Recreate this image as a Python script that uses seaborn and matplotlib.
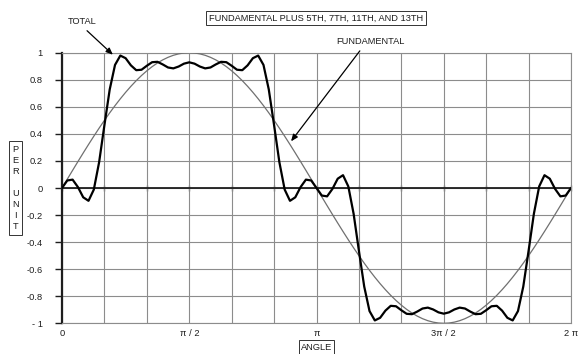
import matplotlib
matplotlib.use("Agg")
import matplotlib.pyplot as plt
import seaborn as sns
import pandas as pd

# ---- data ----
angle_deg = [0, 3.75, 7.5, 11.25, 15, 18.75, 22.5, 26.25, 30, 33.75, 37.5, 41.25, 45,
             48.75, 52.5, 56.25, 60, 63.75, 67.5, 71.25, 75, 78.75, 82.5, 86.25, 90,
             93.75, 97.5, 101.25, 105, 108.75, 112.5, 116.25, 120, 123.75, 127.5, 131.25, 135,
             138.75, 142.5, 146.25, 150, 153.75, 157.5, 161.25, 165, 168.75, 172.5, 176.25, 180,
             183.75, 187.5, 191.25, 195, 198.75, 202.5, 206.25, 210, 213.75, 217.5, 221.25, 225,
             228.75, 232.5, 236.25, 240, 243.75, 247.5, 251.25, 255, 258.75, 262.5, 266.25, 270,
             273.75, 277.5, 281.25, 285, 288.75, 292.5, 296.25, 300, 303.75, 307.5, 311.25, 315,
             318.75, 322.5, 326.25, 330, 333.75, 337.5, 341.25, 345, 348.75, 352.5, 356.25, 360]

total = [0, 0.0557, 0.0618, 0.0070, -0.0687, -0.0947, -0.0118, 0.1905, 0.4644, 0.7285, 0.9097,
         0.9788, 0.9594, 0.9063, 0.8708, 0.8741, 0.9034, 0.9298, 0.9327, 0.9133, 0.8907, 0.8841,
         0.8978, 0.9190, 0.9289,
         0.9190, 0.8978, 0.8841, 0.8907, 0.9133, 0.9327, 0.9298, 0.9034, 0.8741, 0.8708, 0.9063,
         0.9594, 0.9788, 0.9097, 0.7285, 0.4644, 0.1905, -0.0118, -0.0947, -0.0687, 0.0070,
         0.0618, 0.0557, 0,
         -0.0557, -0.0618, -0.0070, 0.0687, 0.0947, 0.0118, -0.1905, -0.4644, -0.7285, -0.9097,
         -0.9788, -0.9594, -0.9063, -0.8708, -0.8741, -0.9034, -0.9298, -0.9327, -0.9133, -0.8907,
         -0.8841, -0.8978, -0.9190, -0.9289,
         -0.9190, -0.8978, -0.8841, -0.8907, -0.9133, -0.9327, -0.9298, -0.9034, -0.8741, -0.8708,
         -0.9063, -0.9594, -0.9788, -0.9097, -0.7285, -0.4644, -0.1905, 0.0118, 0.0947, 0.0687,
         -0.0070, -0.0618, -0.0557, 0]

fundamental = [0, 0.0654, 0.1305, 0.1951, 0.2588, 0.3214, 0.3827, 0.4423, 0.5, 0.5556, 0.6088,
               0.6593, 0.7071, 0.7518, 0.7934, 0.8315, 0.8660, 0.8969, 0.9239, 0.9469, 0.9659,
               0.9808, 0.9914, 0.9979, 1.0,
               0.9979, 0.9914, 0.9808, 0.9659, 0.9469, 0.9239, 0.8969, 0.8660, 0.8315, 0.7934,
               0.7518, 0.7071, 0.6593, 0.6088, 0.5556, 0.5, 0.4423, 0.3827, 0.3214, 0.2588,
               0.1951, 0.1305, 0.0654, 0,
               -0.0654, -0.1305, -0.1951, -0.2588, -0.3214, -0.3827, -0.4423, -0.5, -0.5556, -0.6088,
               -0.6593, -0.7071, -0.7518, -0.7934, -0.8315, -0.8660, -0.8969, -0.9239, -0.9469, -0.9659,
               -0.9808, -0.9914, -0.9979, -1.0,
               -0.9979, -0.9914, -0.9808, -0.9659, -0.9469, -0.9239, -0.8969, -0.8660, -0.8315, -0.7934,
               -0.7518, -0.7071, -0.6593, -0.6088, -0.5556, -0.5, -0.4423, -0.3827, -0.3214, -0.2588,
               -0.1951, -0.1305, -0.0654, 0]

xtick_pos = [0, 90, 180, 270, 360]
xtick_labels = ["0", "\u03c0 / 2", "\u03c0", "3\u03c0 / 2", "2 \u03c0"]
ytick_pos = [-1, -0.8, -0.6, -0.4, -0.2, 0, 0.2, 0.4, 0.6, 0.8, 1]
ytick_labels = ["- 1", "-0.8", "-0.6", "-0.4", "-0.2", "0", "0.2", "0.4", "0.6", "0.8", "1"]
grid_x = [0, 30, 60, 90, 120, 150, 180, 210, 240, 270, 300, 330, 360]

title = "FUNDAMENTAL PLUS 5TH, 7TH, 11TH, AND 13TH"

# ---- styling ----
sns.set_style("white")
plt.rcParams["font.family"] = ["Liberation Sans", "DejaVu Sans"]
plt.rcParams["axes.unicode_minus"] = False
FS = 6.7
GRID = "#8c8c8c"
INK = "#1e1e1e"

df = pd.DataFrame({"angle": angle_deg, "TOTAL": total, "FUNDAMENTAL": fundamental})

fig = plt.figure(figsize=(5.84, 3.54), dpi=100)
ax = fig.add_axes([62 / 584, 30.7 / 354, 509 / 584, 270.6 / 354])

sns.lineplot(data=df, x="angle", y="FUNDAMENTAL", ax=ax, color="#707070", lw=0.9, zorder=3)
sns.lineplot(data=df, x="angle", y="TOTAL", ax=ax, color="black", lw=1.6, zorder=4)

ax.set_xlim(0, 360)
ax.set_ylim(-1, 1)

ax.set_xticks(xtick_pos)
ax.set_xticklabels(xtick_labels, fontsize=FS, color=INK)
ax.set_xticks(grid_x, minor=True)
ax.set_yticks(ytick_pos)
ax.set_yticklabels(ytick_labels, fontsize=FS, color=INK)

ax.grid(True, which="both", color=GRID, lw=0.8)
ax.set_axisbelow(True)
ax.tick_params(axis="x", which="both", length=0, pad=4)
ax.tick_params(axis="y", left=True, length=5, width=1.0, color=INK, pad=9, direction="out")

for s in ["top", "right", "bottom"]:
    ax.spines[s].set_color(GRID)
    ax.spines[s].set_linewidth(0.8)
ax.spines["left"].set_color(INK)
ax.spines["left"].set_linewidth(1.6)

# zero axis line with tick marks
ax.axhline(0, color=INK, lw=1.3, zorder=2.5)
sec = ax.secondary_xaxis(0.5)
sec.set_xticks(grid_x)
sec.tick_params(axis="x", bottom=True, top=False, length=5, direction="inout", width=0.9,
                labelbottom=False, labeltop=False, color=INK)
for s in sec.spines.values():
    s.set_visible(False)

# axis labels in boxes
ax.set_xlabel("ANGLE", fontsize=FS, color=INK,
              bbox=dict(boxstyle="square,pad=0.25", fc="white", ec="#333333", lw=0.7))
ax.xaxis.set_label_coords(0.5, -0.0876)
ax.xaxis.label.set_va("center")

ax.set_ylabel("P\nE\nR\n\nU\nN\nI\nT", fontsize=FS, rotation=0, linespacing=1.3, color=INK,
              bbox=dict(boxstyle="square,pad=0.35", fc="white", ec="#333333", lw=0.7))
ax.yaxis.set_label_coords(-0.0914, 0.5)
ax.yaxis.label.set_va("center")
ax.yaxis.label.set_ha("center")

# title box
fig.text(316 / 584, 1 - 18 / 354, title, fontsize=FS, ha="center", va="center", color=INK,
         bbox=dict(boxstyle="square,pad=0.3", fc="white", ec="#333333", lw=0.7))

# annotations
ax.annotate("TOTAL", xy=(36.0, 0.985), xycoords="data",
            xytext=(82.5, 354 - 22), textcoords="figure pixels", color=INK,
            ha="center", va="center", fontsize=FS, annotation_clip=False,
            arrowprops=dict(arrowstyle="-|>,head_length=0.6,head_width=0.25", color="black",
                            lw=0.9, relpos=(0.5, 0.0), shrinkA=1, shrinkB=0))
ax.annotate("FUNDAMENTAL", xy=(162.0, 0.345), xycoords="data",
            xytext=(370, 354 - 42), textcoords="figure pixels", color=INK,
            ha="center", va="center", fontsize=FS, annotation_clip=False,
            arrowprops=dict(arrowstyle="-|>,head_length=0.6,head_width=0.25", color="black",
                            lw=0.9, relpos=(0.4, 0.0), shrinkA=1, shrinkB=0))

fig.savefig("out.png", dpi=100, facecolor="white")
